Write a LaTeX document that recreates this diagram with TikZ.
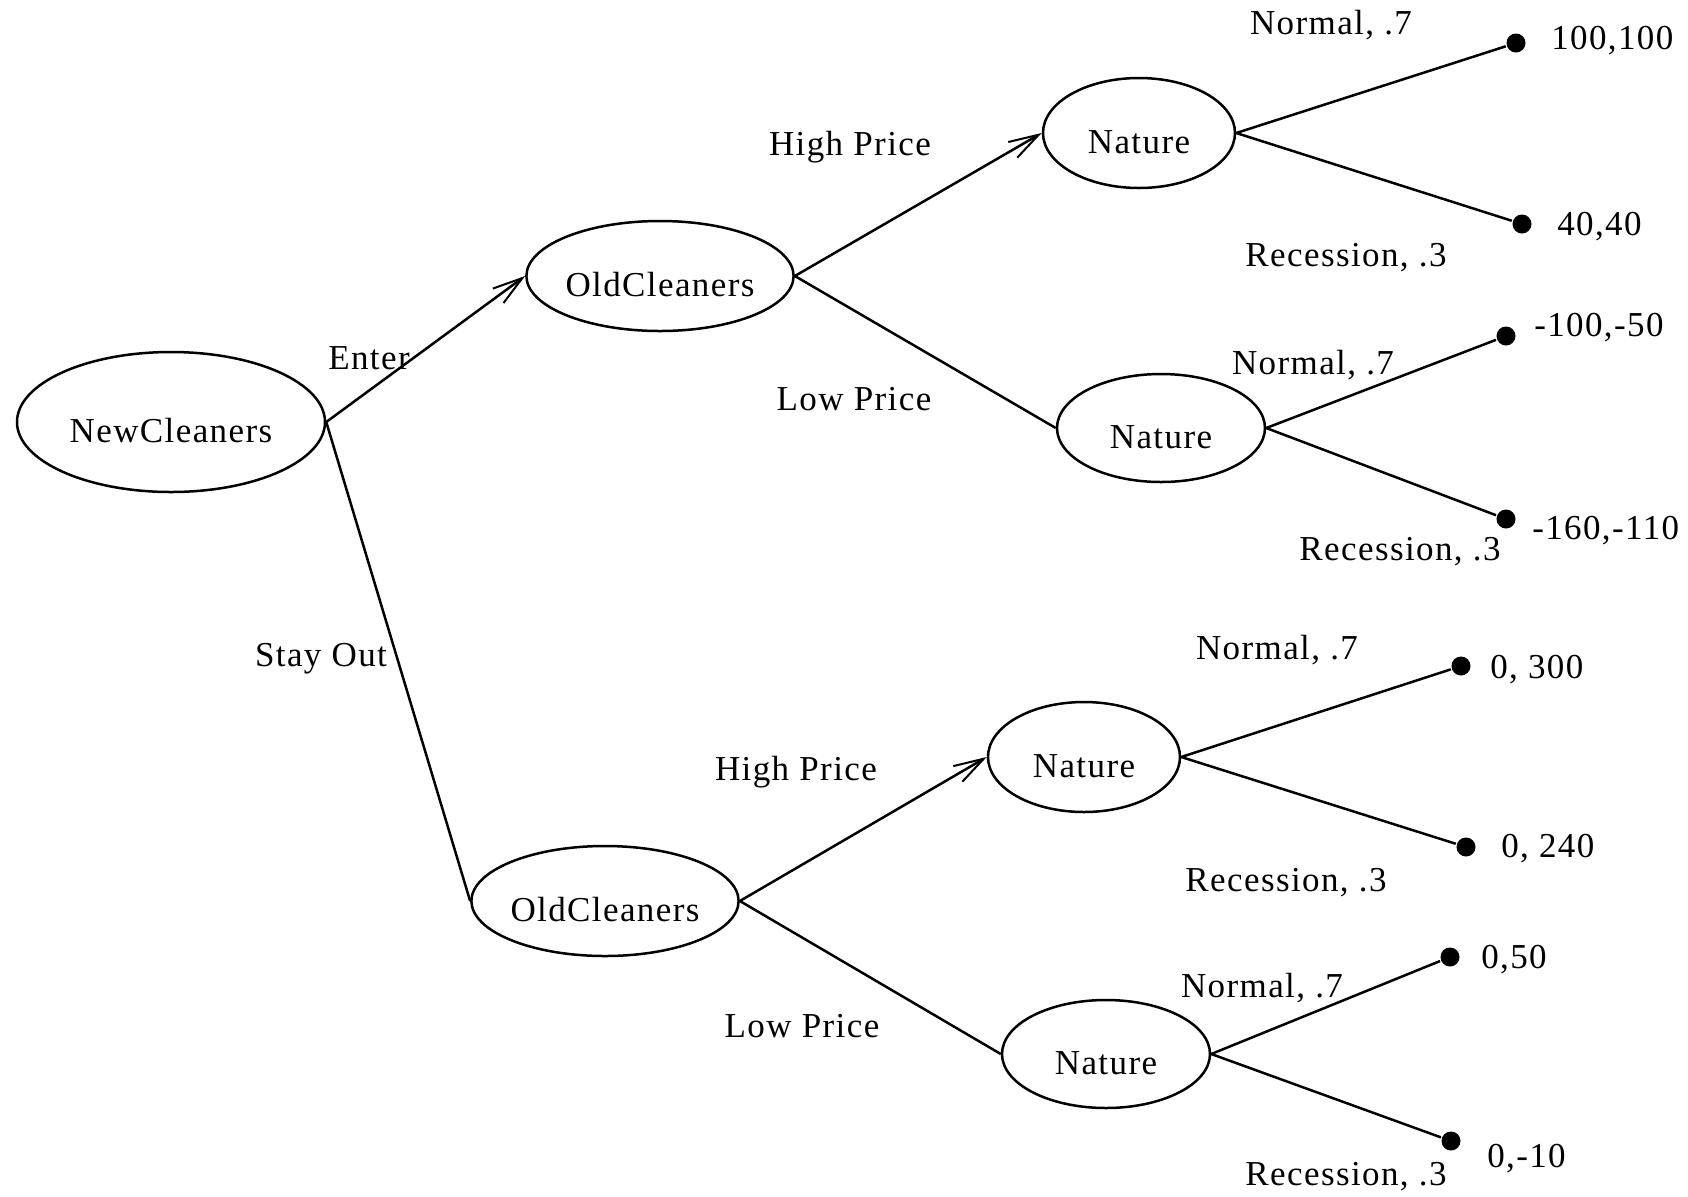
\documentclass[tikz,border=0pt]{standalone}
\usepackage{fontspec}
\setmainfont{Liberation Serif}[LetterSpace=4]
\usetikzlibrary{shapes.geometric,arrows.meta}
\newcommand\lowtxt[1]{\raisebox{-10pt}[0pt][0pt]{#1}}
\begin{document}
\begin{tikzpicture}[x=0.5pt,y=-0.5pt,
  font=\fontsize{17.5}{20}\selectfont,
  every path/.style={line width=1.25pt},
  decision/.style={ellipse, draw, line width=1.25pt, inner sep=0pt},
  bigdec/.style={decision, minimum width=154pt, minimum height=70pt},
  olddec/.style={decision, minimum width=133pt, minimum height=55pt},
  natdec/.style={decision, minimum width=96pt, minimum height=55pt},
  natwide/.style={decision, minimum width=104pt, minimum height=54pt},
  leaf/.style={circle, fill=black, inner sep=0pt, minimum size=9.5pt},
  lbl/.style={inner sep=0pt},
  pay/.style={inner sep=0pt, anchor=west},
  arr/.style={-{Straight Barb[length=15pt,width=9pt,line width=1pt]}},
]
\useasboundingbox (0,0) rectangle (1688,1196);
\fill[white] (0,0) rectangle (1688,1196);

% decision nodes
\node[bigdec] (nc) at (171,422) {\lowtxt{NewCleaners}};
\node[olddec] (oc1) at (660,276) {\lowtxt{OldCleaners}};
\node[olddec] (oc2) at (605,901) {\lowtxt{OldCleaners}};
\node[natdec] (n1) at (1139,133) {\lowtxt{Nature}};
\node[natwide] (n2) at (1161,428) {\lowtxt{Nature}};
\node[natdec] (n3) at (1084,757) {\lowtxt{Nature}};
\node[natwide] (n4) at (1106,1054) {\lowtxt{Nature}};

% terminal nodes
\node[leaf] (t1) at (1516,43) {};
\node[leaf] (t2) at (1522,224) {};
\node[leaf] (t3) at (1506,336) {};
\node[leaf] (t4) at (1506,519) {};
\node[leaf] (t5) at (1461,666) {};
\node[leaf] (t6) at (1466,847) {};
\node[leaf] (t7) at (1450,957) {};
\node[leaf] (t8) at (1451,1141) {};

% payoffs
\node[pay] (p1) at (1550,41) {100,100};
\node[pay] (p2) at (1556,227) {40,40};
\node[pay] (p3) at (1533,328) {-100,-50};
\node[pay] (p4) at (1531,531) {-160,-110};
\node[pay] (p5) at (1489,670) {0, 300};
\node[pay] (p6) at (1500,849) {0, 240};
\node[pay] (p7) at (1480,960) {0,50};
\node[pay] (p8) at (1486,1159) {0,-10};

% connectors
\draw[arr] (nc.east) -- (oc1.west);
\draw (nc.east) -- (oc2.west);
\draw[arr] (oc1.east) -- (n1.west);
\draw (oc1.east) -- (n2.west);
\draw[arr] (oc2.east) -- (n3.west);
\draw (oc2.east) -- (n4.west);
\draw (n1.east) -- (t1);
\draw (n1.east) -- (t2);
\draw (n2.east) -- (t3);
\draw (n2.east) -- (t4);
\draw (n3.east) -- (t5);
\draw (n3.east) -- (t6);
\draw (n4.east) -- (t7);
\draw (n4.east) -- (t8);

% edge labels
\node[lbl] (l1) at (369,358) {Enter};
\node[lbl] (l2) at (321,659) {Stay Out};
\node[lbl] (l3) at (850,147) {High Price};
\node[lbl] (l4) at (854,399) {Low Price};
\node[lbl] (l5) at (796,772) {High Price};
\node[lbl] (l6) at (802,1026) {Low Price};
\node[lbl] (l7) at (1331,25) {Normal, .7};
\node[lbl] (l8) at (1346,258) {Recession, .3};
\node[lbl] (l9) at (1313,365) {Normal, .7};
\node[lbl] (l10) at (1400,552) {Recession, .3};
\node[lbl] (l11) at (1277,650) {Normal, .7};
\node[lbl] (l12) at (1286,883) {Recession, .3};
\node[lbl] (l13) at (1262,988) {Normal, .7};
\node[lbl] (l14) at (1346,1177) {Recession, .3};
\end{tikzpicture}
\end{document}
